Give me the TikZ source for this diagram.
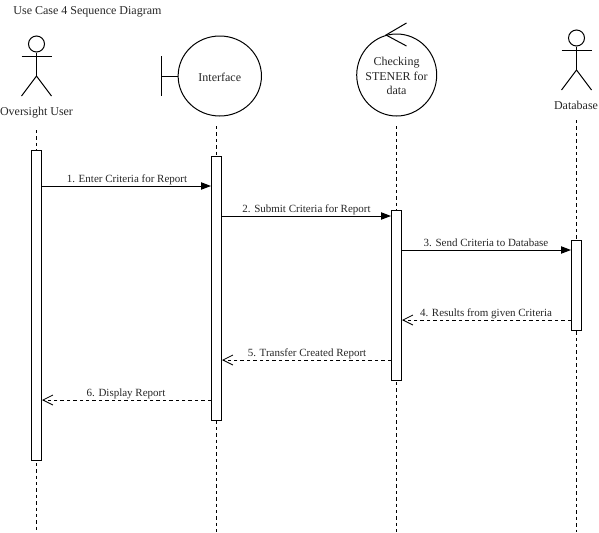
\documentclass[tikz,border=0pt]{standalone}
\usepackage{fontspec}
\setmainfont{Liberation Serif}
\usetikzlibrary{arrows.meta,shapes.geometric}
\tikzset{
  x=0.75pt,y=-0.75pt,
  every path/.style={line width=0.75pt},
  lbl/.style={inner sep=0pt,anchor=base,font=\fontsize{8.25pt}{10pt}\selectfont,text=black!85},
  actorlbl/.style={inner sep=0pt,anchor=base,font=\fontsize{9pt}{11pt}\selectfont,text=black!85},
  lifeline/.style={dash pattern=on 2.6pt off 2.2pt},
  activation/.style={draw,fill=white,minimum width=7.5pt,inner sep=0pt,anchor=north},
  bigcircle/.style={draw,ellipse,inner sep=0pt},
  circletext/.style={inner sep=0pt,align=center,font=\fontsize{9pt}{10.6pt}\selectfont,text=black!85},
  headcircle/.style={draw,circle,minimum size=12pt,inner sep=0pt},
  syncmsg/.style={-{Triangle[length=7.5pt,width=5.5pt,fill=black]}},
  returnmsg/.style={dash pattern=on 2.6pt off 2.2pt,-{Straight Barb[length=7.5pt,width=7.5pt,line width=0.6pt]}},
}
\begin{document}
\begin{tikzpicture}
\useasboundingbox (0,0) rectangle (599,532);
% title
\node[actorlbl,anchor=base west] (title) at (13,14) {Use Case 4 Sequence Diagram};
% actor 1
\node[headcircle] (head1) at (36.5,44) {};
\coordinate (neck1) at (36.5,76);
\draw (head1.south) -- (neck1);
\coordinate (sl1) at (21.5,56); \coordinate (sr1) at (51.5,56);
\draw (sl1) -- (sr1);
\coordinate (fl1) at (21.5,96); \coordinate (fr1) at (51.5,96);
\draw (fl1) -- (neck1) -- (fr1);
\node[actorlbl] (user) at (36.5,115) {Oversight User};
% boundary
\node[bigcircle,minimum width=62.5pt,minimum height=60pt] (iface) at (219.8,76) {};
\node[circletext] (ifacelabel) at (219.8,77) {Interface};
\coordinate (bt) at (161.5,56); \coordinate (bb) at (161.5,96); \coordinate (bm) at (161.5,76);
\draw (bt) -- (bb);
\draw (bm) -- (iface.west);
% control
\node[bigcircle,minimum width=60pt,minimum height=61.5pt] (check) at (396.7,75) {};
\node[circletext] (checklabel) at (396.5,76) {Checking\\STENER for\\data};
\coordinate (tip) at (386,35);
\coordinate (cu) at (406.5,23); \coordinate (cd) at (406.5,46);
\draw (cu) -- (tip) -- (cd);
% actor 2
\node[headcircle] (head2) at (576.5,38) {};
\coordinate (neck2) at (576.5,70);
\draw (head2.south) -- (neck2);
\coordinate (sl2) at (561.5,50); \coordinate (sr2) at (591.5,50);
\draw (sl2) -- (sr2);
\coordinate (fl2) at (561.5,90); \coordinate (fr2) at (591.5,90);
\draw (fl2) -- (neck2) -- (fr2);
\node[actorlbl] (db) at (576,109) {Database};
% lifelines
\coordinate (ls1) at (36.5,130); \coordinate (le1) at (36.5,532);
\coordinate (ls2) at (216.5,126); \coordinate (le2) at (216.5,532);
\coordinate (ls3) at (396.5,126); \coordinate (le3) at (396.5,532);
\coordinate (ls4) at (576.5,120); \coordinate (le4) at (576.5,532);
\draw[lifeline] (ls1) -- (le1);
\draw[lifeline] (ls2) -- (le2);
\draw[lifeline] (ls3) -- (le3);
\draw[lifeline] (ls4) -- (le4);
% activations
\node[activation,minimum height=232.5pt] (a1) at (36.5,150) {};
\node[activation,minimum height=198pt] (a2) at (216.5,156) {};
\node[activation,minimum height=127.5pt] (a3) at (396.5,210) {};
\node[activation,minimum height=67.5pt] (a4) at (576.5,240) {};
% message rows
\coordinate (m1) at (0,186); \coordinate (m2) at (0,216); \coordinate (m3) at (0,250);
\coordinate (m4) at (0,320); \coordinate (m5) at (0,360); \coordinate (m6) at (0,400);
\draw[syncmsg] (a1.east |- m1) -- (a2.west |- m1);
\draw[syncmsg] (a2.east |- m2) -- (a3.west |- m2);
\draw[syncmsg] (a3.east |- m3) -- (a4.west |- m3);
\draw[returnmsg] (a4.west |- m4) -- (a3.east |- m4);
\draw[returnmsg] (a3.west |- m5) -- (a2.east |- m5);
\draw[returnmsg] (a2.west |- m6) -- (a1.east |- m6);
% labels
\node[lbl] (l1) at (127,182) {1. Enter Criteria for Report};
\node[lbl] (l2) at (306.5,212) {2. Submit Criteria for Report};
\node[lbl] (l3) at (486,246) {3. Send Criteria to Database};
\node[lbl] (l4) at (486,316) {4. Results from given Criteria};
\node[lbl] (l5) at (307,356) {5. Transfer Created Report};
\node[lbl] (l6) at (126,396) {6. Display Report};
\end{tikzpicture}
\end{document}
